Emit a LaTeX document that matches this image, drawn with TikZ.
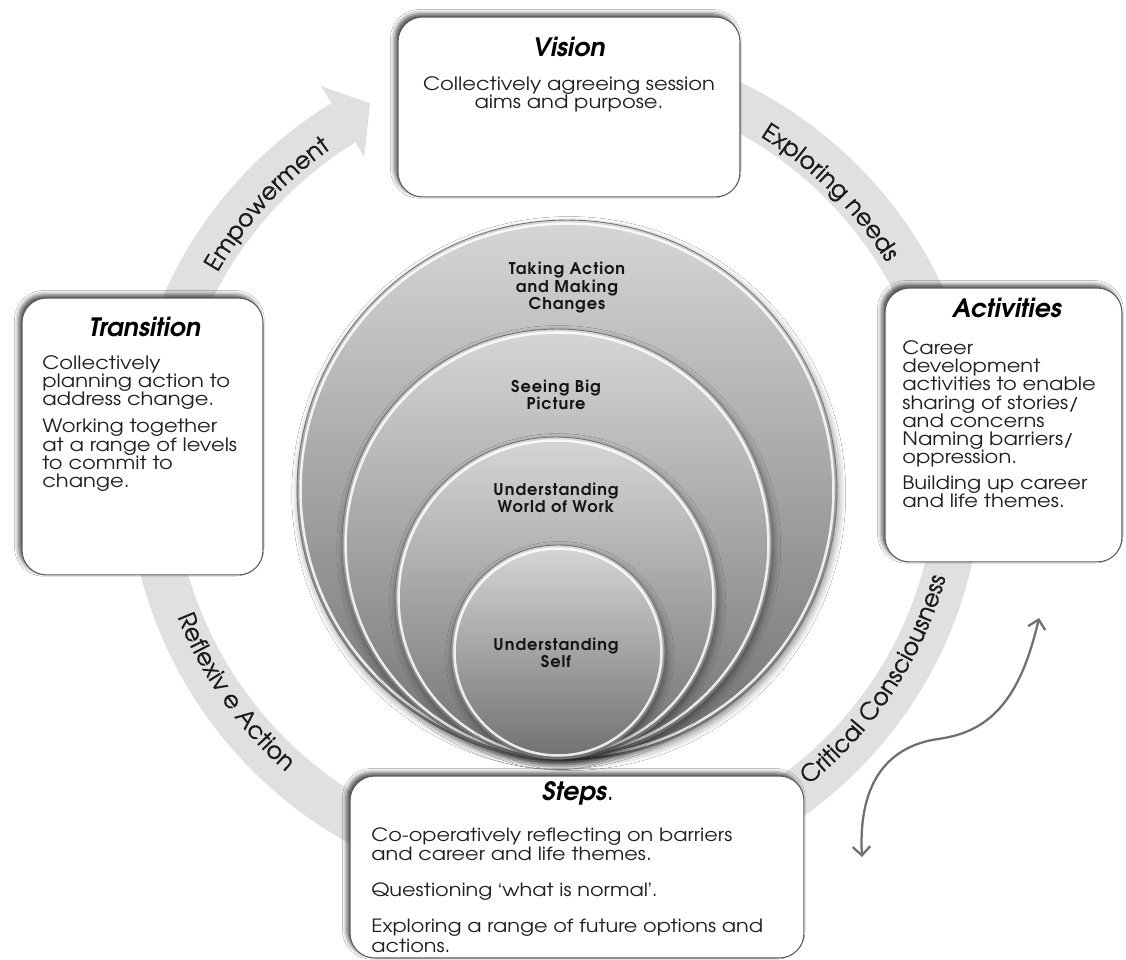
\documentclass[tikz,border=0pt]{standalone}
\usepackage{fontspec}
\setmainfont{TeX Gyre Adventor}
\newfontfamily\quotefont{TeX Gyre Heros}
\usetikzlibrary{calc,shadows.blur,decorations.text,arrows.meta}
\definecolor{bandgray}{HTML}{E0E0E0}
\definecolor{boxline}{HTML}{5A5A5A}
\definecolor{arrowgray}{HTML}{707070}
\newcommand\arcfont{\fontsize{13.5}{16}\selectfont\addfontfeatures{FakeBold=0.6}\color{black!90}}
\begin{document}
\begin{tikzpicture}[x=0.02cm,y=0.02cm,
  box/.style={draw=boxline, fill=white, line width=0.6pt, rounded corners=14pt, inner sep=0pt,
     blur shadow={shadow xshift=-1.8pt, shadow yshift=1.8pt, shadow blur radius=2.5pt, shadow opacity=70}},
  boxtitle/.style={font=\fontsize{14.4}{17}\selectfont\bfseries\itshape, inner sep=0pt},
  boxbody/.style={font=\fontsize{10.5}{10.4}\selectfont\addfontfeatures{FakeStretch=1.14}, align=left, inner sep=0pt, anchor=north west, text=black!88},
  disc/.style={circle, inner sep=0pt, draw=black!55, line width=0.5pt, top color=black!16, bottom color=black!56,
     blur shadow={shadow xshift=1pt, shadow yshift=-2pt, shadow blur radius=4pt, shadow opacity=45}},
  rim/.style={draw=white, line width=1.4pt, opacity=0.85},
  disctext/.style={font=\fontsize{9.2}{10}\selectfont\bfseries\addfontfeatures{LetterSpace=6}, align=center, text=black!92, inner sep=0pt},
]
\fill[white] (0,0) rectangle (1126,960);
\useasboundingbox (0,0) rectangle (1126,960);

% ring band
\coordinate (C) at (555,492);
\draw[color=bandgray, line width=0.92cm] ($(C)+(80:8.1cm)$) arc[start angle=80, end angle=-238.5, radius=8.1cm];
\fill[bandgray] ($(C)+(121.5:7.3cm)$) -- ($(C)+(116.9:8.18cm)$) -- ($(C)+(121.5:8.96cm)$) -- cycle;

% arc labels
\path[decorate, decoration={text along path, text align=center, text={|\arcfont|Empowerment}}]
  ($(C)+(175:7.8cm)$) arc[start angle=175, end angle=100, radius=7.8cm];
\path[decorate, decoration={text along path, text align=center, text={|\arcfont|Exploring needs}}]
  ($(C)+(80:7.8cm)$) arc[start angle=80, end angle=10, radius=7.8cm];
\path[decorate, decoration={text along path, text align=center, text={|\arcfont|Critical Consciousness}}]
  ($(C)+(-70:8.12cm)$) arc[start angle=-70, end angle=3, radius=8.12cm];
\path[decorate, decoration={text along path, text align=center, text={|\arcfont|Reflexiv e Action}}]
  ($(C)+(180:8.12cm)$) arc[start angle=180, end angle=250, radius=8.12cm];

% nested discs
\node[disc, minimum size=10.8cm] (d1) at (567,470) {};
\draw[rim] (d1.center) circle[radius=5.33cm];
\node[disc, minimum size=8.6cm] (d2) at (557,416) {};
\draw[rim] (d2.center) circle[radius=4.23cm];
\node[disc, minimum size=6.44cm] (d3) at (556,362) {};
\draw[rim] (d3.center) circle[radius=3.15cm];
\node[disc, minimum size=4.28cm] (d4) at (558,308) {};
\draw[rim] (d4.center) circle[radius=2.07cm];

\node[disctext] (t1) at (567,672) {Taking Action\\and Making\\Changes};
\node[disctext] (t2) at (556,565) {Seeing Big\\Picture};
\node[disctext] (t3) at (556,462) {Understanding\\World of Work};
\node[disctext] (t4) at (556,307) {Understanding\\Self};

% boxes
\node[box, minimum width=6.84cm, minimum height=3.6cm] (vision) at (569,853) {};
\node[boxtitle] (visiont) at (569,913) {Vision};
\node[boxbody, align=center, anchor=north] (visionb) at (569,884)
  {Collectively agreeing session\\aims and purpose.};

\node[box, minimum width=4.82cm, minimum height=5.54cm] (trans) at (142.5,523.5) {};
\node[boxtitle] (transt) at (145,633) {Transition};
\node[boxbody] (transb) at (42,605)
  {Collectively\\planning action to\\address change.\\[5pt]Working together\\at a range of levels\\to commit to\\change.};

\node[box, minimum width=4.74cm, minimum height=5.48cm] (act) at (1003.5,535) {};
\node[boxtitle] (actt) at (1007,652) {Activities};
\node[boxbody] (actb) at (902,620)
  {Career\\development\\activities to enable\\sharing of stories/\\and concerns\\Naming barriers/\\oppression.\\[4pt]Building up career\\and life themes.};

\node[box, minimum width=9.08cm, minimum height=3.64cm] (steps) at (577,93) {};
\node[boxtitle] (stepst) at (578,167) {Steps\normalfont.};
\node[boxbody, font=\fontsize{10.4}{11.3}\selectfont\addfontfeatures{FakeStretch=1.14}] (stepsb) at (371,133)
  {Co-operatively reflecting on barriers\\and career and life themes.\\[9pt]Questioning {\quotefont ‘}what is normal{\quotefont ’}.\\[9pt]Exploring a range of future options and\\actions.};

% double-headed curved arrow
\coordinate (da1) at (1039,342);
\coordinate (da2) at (862,103);
\draw[arrowgray, line width=1.3pt, {Straight Barb[length=5pt,width=10pt]}-{Straight Barb[length=5pt,width=10pt]}]
  (da1) .. controls (1020,260) and (990,228) .. (938,221) .. controls (890,214) and (858,180) .. (da2);
\end{tikzpicture}
\end{document}
